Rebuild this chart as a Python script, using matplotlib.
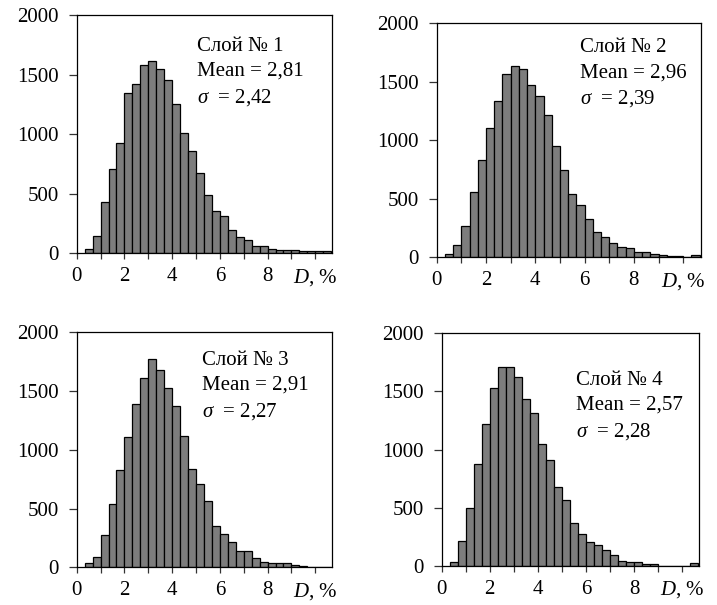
import numpy as np
import matplotlib
matplotlib.use("Agg")
import matplotlib.pyplot as plt
from matplotlib.ticker import MultipleLocator

plt.rcParams['font.family'] = ['Liberation Serif', 'DejaVu Serif']
plt.rcParams['mathtext.fontset'] = 'custom'
plt.rcParams['mathtext.it'] = 'Liberation Serif:italic'
plt.rcParams['mathtext.rm'] = 'Liberation Serif'

# bin width in %, first bin starts at one bin width
BIN = 1 / 3

layer1 = [39, 150, 430, 710, 925, 1345, 1425, 1580, 1612, 1545, 1458, 1252, 1014, 862, 674, 487,
          353, 314, 194, 136, 111, 60, 60, 39, 28, 28, 28, 17, 17, 17, 17]
layer2 = [27, 106, 270, 556, 832, 1100, 1337, 1565, 1634, 1606, 1472, 1373, 1210, 951, 745, 537,
          449, 323, 218, 168, 120, 86, 77, 41, 41, 27, 15, 12, 10, 3, 20]
layer3 = [34, 92, 275, 540, 826, 1106, 1390, 1613, 1773, 1675, 1527, 1375, 1120, 835, 709, 569,
          350, 283, 218, 140, 140, 78, 45, 34, 34, 34, 22, 11, 0, 0, 0]
layer4 = [29, 212, 499, 875, 1216, 1526, 1707, 1707, 1627, 1431, 1311, 1050, 909, 677, 565, 367,
          273, 207, 178, 132, 92, 40, 29, 29, 17, 17, 0, 0, 0, 0, 23]

layers = [layer1, layer2, layer3, layer4]
names = ["Слой № 1", "Слой № 2", "Слой № 3", "Слой № 4"]
means = ["2,81", "2,96", "2,91", "2,57"]
sigmas = ["2,42", "2,39", "2,27", "2,28"]

xtick_vals = [0, 2, 4, 6, 8, 10]
xtick_labels = ["0", "2", "4", "6", "8", "$D$, %"]
ytick_vals = [0, 500, 1000, 1500, 2000]

# axes rectangles in figure fractions and text anchor
rects = [
    [0.107, 0.581, 0.356, 0.394],
    [0.609, 0.575, 0.368, 0.387],
    [0.107, 0.062, 0.356, 0.389],
    [0.616, 0.065, 0.359, 0.384],
]
text_pos = [(0.47, 0.91), (0.545, 0.935), (0.49, 0.92), (0.52, 0.84)]

fig = plt.figure(figsize=(7.17, 6.05), dpi=100)

for i in range(4):
    ax = fig.add_axes(rects[i])
    counts = layers[i]
    lefts = BIN * (np.arange(len(counts)) + 1)
    ax.bar(lefts, counts, width=BIN, align='edge', color='#7d7d7d',
           edgecolor='black', linewidth=0.9)
    ax.set_xlim(0, 10.7)
    ax.set_ylim(0, 2000)
    ax.set_xticks(xtick_vals)
    ax.set_xticklabels(xtick_labels)
    ax.xaxis.set_minor_locator(MultipleLocator(1))
    ax.set_yticks(ytick_vals)
    ax.tick_params(axis='both', which='both', direction='out', labelsize=15,
                   width=0.9, color='#333333')
    ax.tick_params(axis='x', which='both', length=4, pad=6)
    ax.tick_params(axis='y', length=6, pad=7)
    for s in ax.spines.values():
        s.set_linewidth(0.9)
    tx, ty = text_pos[i]
    ax.text(tx, ty, names[i] + "\nMean = " + means[i] + "\n$\\sigma$  = " + sigmas[i],
            transform=ax.transAxes, ha='left', va='top', fontsize=15,
            linespacing=1.42)

fig.savefig("out.png", dpi=100)
